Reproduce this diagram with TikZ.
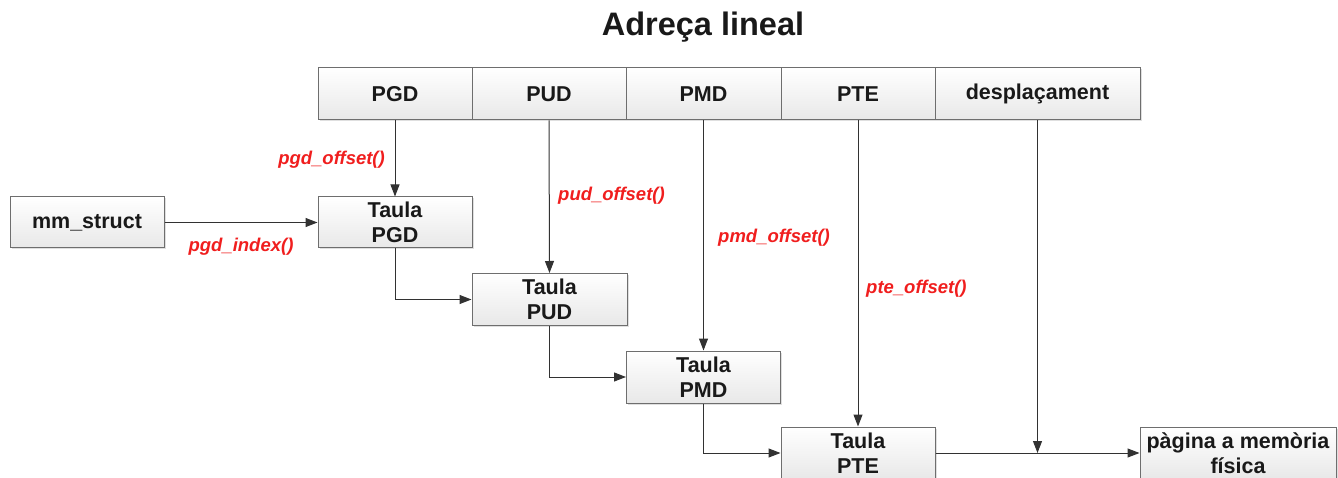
\documentclass[tikz,border=0pt]{standalone}
\usepackage{fontspec}
\setmainfont{Liberation Sans}
\usetikzlibrary{arrows.meta,shadows,calc}
\definecolor{lbl}{RGB}{240,30,30}
\definecolor{edge}{RGB}{110,110,110}
\definecolor{wire}{RGB}{50,50,50}
\definecolor{ink}{RGB}{25,25,25}
\tikzset{
  box/.style={draw=edge, line width=1pt, top color=white, bottom color=black!9,
    inner sep=0pt, align=center, text=ink, font=\fontsize{21.5}{25}\selectfont\bfseries,
    drop shadow={opacity=0.25, shadow xshift=1.5pt, shadow yshift=-1.5pt}},
  cell/.style={box, minimum height=52pt},
  arr/.style={draw=wire, line width=1pt, -{Triangle[length=12pt,width=9pt]}},
  lab/.style={text=lbl, font=\fontsize{18.5}{20}\selectfont\bfseries\itshape, inner sep=0pt},
}
\begin{document}
\begin{tikzpicture}[x=1pt,y=-1pt]
\useasboundingbox (0,0) rectangle (1338,478);
\node[text=ink, font=\fontsize{32.5}{38}\selectfont\bfseries] (title) at (703,27) {Adreça lineal};
% top bar
\node[cell, minimum width=154pt] (cPGD) at (395,94) {PGD};
\node[cell, minimum width=154pt] (cPUD) at (549,94) {PUD};
\node[cell, minimum width=155pt] (cPMD) at (703.5,94) {PMD};
\node[cell, minimum width=154pt] (cPTE) at (858,94) {PTE};
\node[cell, minimum width=205pt] (cDesp) at (1037.5,94) {desplaçament};
% boxes
\node[box, minimum width=154pt, minimum height=51pt] (mm) at (87,222.5) {mm\_struct};
\node[box, minimum width=154pt, minimum height=51pt] (tPGD) at (395,222.5) {Taula\\PGD};
\node[box, minimum width=155pt, minimum height=52pt] (tPUD) at (549.5,299.5) {Taula\\PUD};
\node[box, minimum width=154pt, minimum height=52pt] (tPMD) at (703.5,377) {Taula\\PMD};
\node[box, minimum width=154pt, minimum height=52pt] (tPTE) at (858,453) {Taula\\PTE};
\node[box, minimum width=196pt, minimum height=52pt] (page) at (1238,453) {pàgina a memòria\\física};
% connectors
\draw[arr] (cPGD.south) -- (tPGD.north);
\draw[arr] (mm.east) -- (tPGD.west);
\draw[arr] (tPGD.south) |- (tPUD.west);
\draw[arr] (cPUD.south) -- (tPUD.north);
\draw[arr] (tPUD.south) |- (tPMD.west);
\draw[arr] (cPMD.south) -- (tPMD.north);
\draw[arr] (tPMD.south) |- (tPTE.west);
\draw[arr] (cPTE.south) -- (tPTE.north);
\draw[arr] (tPTE.east) -- (page.west);
\coordinate (j) at (cDesp.south |- tPTE.east);
\draw[arr] (cDesp.south) -- (j);
% labels
\node[lab, anchor=east] (l1) at (385,160) {pgd\_offset()};
\node[lab] (l0) at (241,247) {pgd\_index()};
\node[lab, anchor=west] (l2) at (558,196) {pud\_offset()};
\node[lab, anchor=west] (l3) at (718,238) {pmd\_offset()};
\node[lab, anchor=west] (l4) at (866,289) {pte\_offset()};
\end{tikzpicture}
\end{document}
